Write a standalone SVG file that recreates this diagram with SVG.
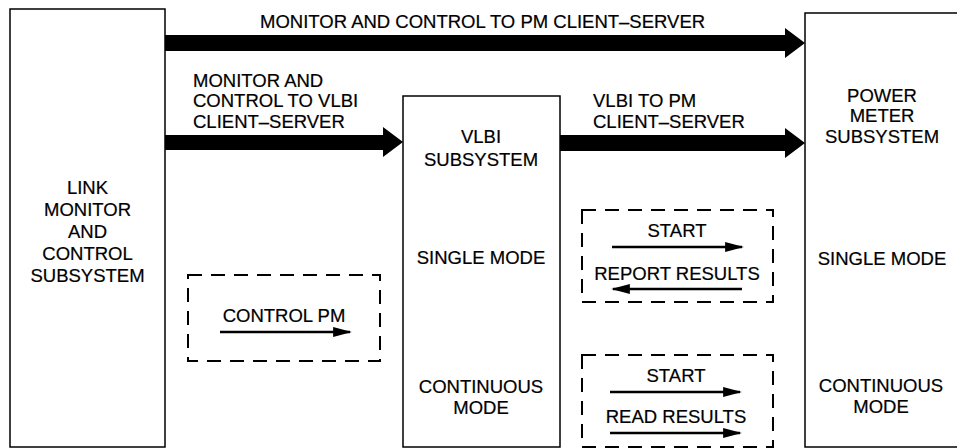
<svg xmlns="http://www.w3.org/2000/svg" width="957" height="448" viewBox="0 0 957 448">
<defs>
<style>
.box{fill:none;stroke:#000;stroke-width:1.5}
.dash{fill:none;stroke:#000;stroke-width:2;stroke-dasharray:14 9}
.t{font-family:"Liberation Sans",Arial,sans-serif;font-size:18.5px;fill:#000;stroke:#000;stroke-width:0.2}
.c{text-anchor:middle}
.thin{stroke:#000;stroke-width:2.5;fill:none}
.big{fill:#000}
</style>
<marker id="ah" viewBox="0 0 10 10" refX="9" refY="5" markerWidth="7.5" markerHeight="4" markerUnits="strokeWidth" orient="auto" preserveAspectRatio="none">
<path d="M0,0 L10,5 L0,10 Z" fill="#000"/>
</marker>
</defs>
<rect width="957" height="448" fill="#fff"/>

<g id="link-mc">
<rect class="box" x="10" y="9" width="155" height="438"/>
<text class="t c" x="87.5" y="194">LINK</text>
<text class="t c" x="87.5" y="216">MONITOR</text>
<text class="t c" x="87.5" y="238">AND</text>
<text class="t c" x="87.5" y="260">CONTROL</text>
<text class="t c" x="87.5" y="282">SUBSYSTEM</text>
</g>

<g id="vlbi">
<rect class="box" x="403" y="96" width="157" height="351"/>
<text class="t c" x="481" y="143">VLBI</text>
<text class="t c" x="481" y="166">SUBSYSTEM</text>
<text class="t c" x="481" y="264">SINGLE MODE</text>
<text class="t c" x="481" y="393">CONTINUOUS</text>
<text class="t c" x="481" y="414">MODE</text>
</g>

<g id="power-meter">
<rect class="box" x="805" y="13" width="160" height="434"/>
<text class="t c" x="882" y="102">POWER</text>
<text class="t c" x="882" y="122">METER</text>
<text class="t c" x="882" y="143">SUBSYSTEM</text>
<text class="t c" x="882" y="265">SINGLE MODE</text>
<text class="t c" x="881" y="392">CONTINUOUS</text>
<text class="t c" x="881" y="413">MODE</text>
</g>

<g id="control-pm">
<rect class="dash" x="188" y="275" width="192" height="86"/>
<text class="t c" x="284" y="322">CONTROL PM</text>
<line class="thin" x1="220" y1="332" x2="350" y2="332" marker-end="url(#ah)"/>
</g>

<g id="single-mode-exchange">
<rect class="dash" x="582" y="210" width="191" height="92"/>
<text class="t c" x="677" y="237">START</text>
<line class="thin" x1="612" y1="247" x2="742" y2="247" marker-end="url(#ah)"/>
<text class="t c" x="677" y="280">REPORT RESULTS</text>
<line class="thin" x1="742" y1="289" x2="613" y2="289" marker-end="url(#ah)"/>
</g>

<g id="continuous-mode-exchange">
<rect class="dash" x="582" y="355" width="191" height="92"/>
<text class="t c" x="676" y="382">START</text>
<line class="thin" x1="610" y1="392" x2="740" y2="392" marker-end="url(#ah)"/>
<text class="t c" x="676" y="423">READ RESULTS</text>
<line class="thin" x1="610" y1="433" x2="740" y2="433" marker-end="url(#ah)"/>
</g>

<g id="connectors">
<path class="big" d="M165,35 H785 V28 L805,43 L785,58 V51 H165 Z"/>
<path class="big" d="M165,135 H383 V127 L403,142 L383,157 V150 H165 Z"/>
<path class="big" d="M560,135 H785 V128 L805,143 L785,158 V151 H560 Z"/>
<text class="t" x="260" y="28">MONITOR AND CONTROL TO PM CLIENT–SERVER</text>
<text class="t" x="193" y="87">MONITOR AND</text>
<text class="t" x="193" y="107">CONTROL TO VLBI</text>
<text class="t" x="193" y="128">CLIENT–SERVER</text>
<text class="t" x="593" y="107">VLBI TO PM</text>
<text class="t" x="593" y="128">CLIENT–SERVER</text>
</g>
</svg>
